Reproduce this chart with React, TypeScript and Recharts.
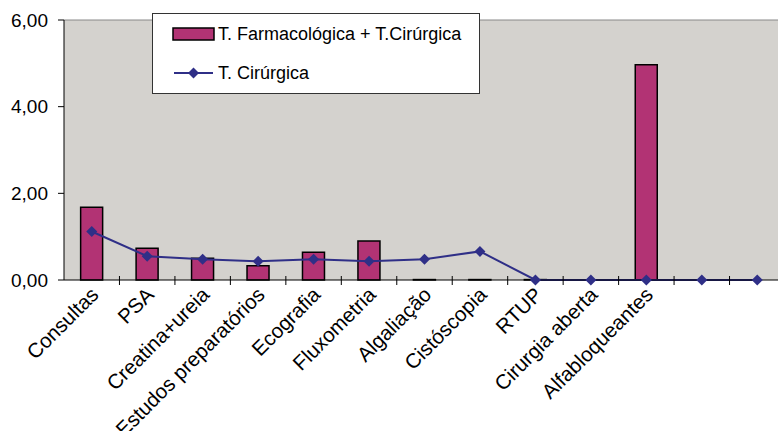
import React from "react";
import { ComposedChart, Bar, Line, XAxis, YAxis, Legend, CartesianGrid, ReferenceLine } from "recharts";

const categories = [
  "Consultas",
  "PSA",
  "Creatina+ureia",
  "Estudos preparatórios",
  "Ecografia",
  "Fluxometria",
  "Algaliação",
  "Cistóscopia",
  "RTUP",
  "Cirurgia aberta",
  "Alfabloqueantes",
  "",
  "",
];
const farmacoCirurgica = [1.68, 0.73, 0.5, 0.33, 0.64, 0.9, 0.01, 0.01, 0.01, 0, 4.97, null, null];
const cirurgica = [1.12, 0.55, 0.48, 0.43, 0.48, 0.43, 0.48, 0.66, 0, 0, 0, 0, 0];
const yTicks = [0, 2, 4, 6];

const data = categories.map((name, i) => ({
  name,
  combo: farmacoCirurgica[i],
  surg: cirurgica[i],
}));

const FONT = "'Liberation Sans', Arial, sans-serif";
const BAR = "#b23374";
const LINE = "#2f2f87";

function CategoryTick(props: any) {
  const { x, y, payload } = props;
  const half = payload?.offset ?? 27.7;
  const tx = x + 8;
  const ty = y + 11;
  return (
    <g>
      <line x1={x + half} y1={y - 9} x2={x + half} y2={y} stroke="#000" />
      <text
        x={tx}
        y={ty}
        transform={`rotate(-45, ${tx}, ${ty})`}
        textAnchor="end"
        fontSize={20.5}
        fontFamily={FONT}
        fill="#000"
      >
        {payload.value}
      </text>
    </g>
  );
}

function Diamond(props: any) {
  const { cx, cy, index } = props;
  if (cx == null || cy == null) return null;
  const r = 5.5;
  return (
    <polygon
      key={index}
      points={`${cx},${cy - r} ${cx + r},${cy} ${cx},${cy + r} ${cx - r},${cy}`}
      fill={LINE}
    />
  );
}

function LegendBox() {
  return (
    <svg width={328} height={81} style={{ display: "block" }}>
      <rect x={0.5} y={0.5} width={327} height={80} fill="#fff" stroke="#333" />
      <rect x={21} y={15} width={41} height={12} fill={BAR} stroke="#000" strokeWidth={1.5} />
      <text x={66} y={27} fontSize={18} fontFamily={FONT} fill="#000">
        T. Farmacológica + T.Cirúrgica
      </text>
      <line x1={22} y1={60} x2={61} y2={60} stroke={LINE} strokeWidth={2} />
      <polygon points="41.5,54.5 47,60 41.5,65.5 36,60" fill={LINE} />
      <text x={66} y={66} fontSize={18} fontFamily={FONT} fill="#000">
        T. Cirúrgica
      </text>
    </svg>
  );
}

export default function App() {
  return (
    <div
      style={{
        position: "absolute",
        left: 0,
        top: 0,
        width: 778,
        height: 431,
        overflow: "hidden",
        background: "#fff",
      }}
    >
      <ComposedChart
        width={785}
        height={431}
        data={data}
        margin={{ top: 20, right: 0, bottom: 0, left: 0 }}
        barCategoryGap="30%"
      >
        <CartesianGrid fill="#d4d2ce" horizontal={false} vertical={false} />
        <ReferenceLine y={6} stroke="#888" />
        <XAxis
          dataKey="name"
          height={151}
          interval={0}
          tickLine={false}
          tickSize={5}
          tickMargin={0}
          axisLine={{ stroke: "#000" }}
          tick={<CategoryTick />}
        />
        <YAxis
          width={64}
          domain={[0, 6]}
          ticks={yTicks}
          interval={0}
          tickSize={6}
          tickMargin={10}
          axisLine={{ stroke: "#000" }}
          tickLine={{ stroke: "#000" }}
          tickFormatter={(v: number) => v.toFixed(2).replace(".", ",")}
          tick={{ fontSize: 19, fontFamily: FONT, fill: "#000" }}
        />
        <Legend
          layout="vertical"
          align="center"
          verticalAlign="middle"
          wrapperStyle={{ left: 152, top: 13, width: 328, height: 81 }}
          content={() => <LegendBox />}
        />
        <Bar dataKey="combo" fill={BAR} stroke="#000" strokeWidth={1.5} isAnimationActive={false} />
        <Line
          dataKey="surg"
          type="linear"
          stroke={LINE}
          strokeWidth={2}
          dot={(p: any) => <Diamond {...p} key={p.index} />}
          activeDot={false}
          isAnimationActive={false}
        />
      </ComposedChart>
    </div>
  );
}
